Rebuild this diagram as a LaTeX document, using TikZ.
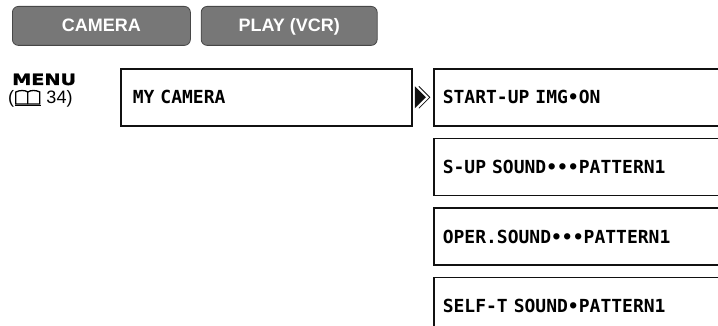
\documentclass[tikz,border=0pt]{standalone}
\usepackage{fontspec}
\setmainfont{Liberation Sans}
\newfontfamily\lcdfont{DejaVu Sans Mono}
\newfontfamily\menufont[BoldFeatures={FakeBold=1.2}]{DejaVu Sans}
\usetikzlibrary{positioning,calc}
\definecolor{mnInk}{HTML}{111111}
\definecolor{mnTab}{HTML}{777777}
\newcommand{\bookicon}{\tikz[baseline=0pt, line width=1.3pt, x=1pt, y=1pt]{%
  \draw (13,0) -- (1,0) -- (1,12) .. controls (5,14) and (10,14) .. (13,12) -- (13,0);
  \draw (13,0) -- (25,0) -- (25,12) .. controls (21,14) and (16,14) .. (13,12);
  \draw (0,-1.5) -- (26,-1.5);}}
\tikzset{
  tab/.style={fill=mnTab, draw=mnTab!60!black, line width=0.8pt, rounded corners=6pt, minimum width=178pt, minimum height=39pt, inner sep=0pt, text height=13pt, text depth=2pt, text=white, font=\fontsize{18}{18}\selectfont\bfseries},
  lcdbox/.style={draw=mnInk, line width=1.6pt, minimum height=57pt, inner ysep=0pt, align=left, font=\lcdfont\fontsize{18}{18}\selectfont\bfseries},
  mycambox/.style={lcdbox, inner xsep=12pt, text width=267pt},
  optbox/.style={lcdbox, inner xsep=9pt, text width=290pt},
}
\begin{document}
\begin{tikzpicture}[x=1pt, y=-1pt, node distance=11pt]
  \clip (0,0) rectangle (718,326);
  % mode tabs
  \node[tab, anchor=north west] (cam) at (12,6) {CAMERA};
  \node[tab, right=10pt of cam, minimum width=176pt] (vcr) {PLAY (VCR)};
  % menu reference
  \node[anchor=base west, inner sep=0pt, font=\menufont\fontsize{15.5}{15.5}\selectfont\bfseries] (menu) at (12,85) {\scalebox{1.24}[1]{MENU}};
  \node[anchor=base west, inner sep=0pt, font=\fontsize{18}{18}\selectfont] (page) at (8,104) {(\bookicon\hspace{5pt}34)};
  % menu boxes
  \node[mycambox, anchor=north west] (mycam) at (120,68) {MY CAMERA};
  \node[optbox, anchor=north west] (o1) at (433,68) {START-UP IMG•ON};
  \node[optbox, below=of o1] (o2) {S-UP SOUND•••PATTERN1};
  \node[optbox, below=of o2] (o3) {OPER.SOUND•••PATTERN1};
  \node[optbox, below=of o3] (o4) {SELF-T SOUND•PATTERN1};
  % pointer
  \coordinate (ptr) at ($(mycam.east)!0.5!(o1.west)$);
  \fill[mnInk] ($(ptr)+(-8,-11)$) -- ($(ptr)+(3,0)$) -- ($(ptr)+(-8,11)$) -- cycle;
  \draw[mnInk, line width=0.8pt] ($(ptr)+(-4,-11)$) -- ($(ptr)+(7,0)$) -- ($(ptr)+(-4,11)$);
\end{tikzpicture}
\end{document}
